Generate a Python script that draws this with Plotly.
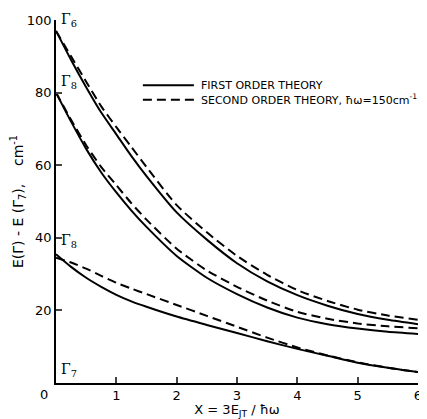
import plotly.graph_objects as go

x_vals = [0, 0.25, 0.5, 0.75, 1, 1.25, 1.5, 2, 2.5, 3, 3.5, 4, 4.5, 5, 5.5, 6]

g6_first = [97, 89, 81.5, 74.5, 68.5, 62.5, 57, 47, 39.5, 33, 28, 24.2, 21.3, 19, 17.4, 16.2]
g6_second = [97, 90, 83, 76.2, 70.5, 65, 59.5, 49, 41.5, 35, 29.8, 25.6, 22.6, 20.2, 18.6, 17.4]
g8_first = [80, 72, 64.5, 58, 52.5, 47.5, 43, 35, 29, 24.5, 20.8, 18, 16.2, 15, 14.1, 13.5]
g8_second = [80, 72.5, 65.5, 59.5, 54.5, 49.5, 45, 37, 31, 26.5, 22.7, 19.6, 17.7, 16.4, 15.6, 15.1]
g8b_first = [35.5, 32, 29, 26.5, 24.3, 22.5, 21, 18.3, 16, 13.8, 11.5, 9.4, 7.5, 5.6, 4.2, 3.0]
g8b_second = [34.5, 33.2, 31.5, 29.5, 27.6, 26, 24.5, 21.5, 18.5, 15.5, 12.5, 9.8, 7.6, 5.7, 4.2, 3.0]

x_ticks = [1, 2, 3, 4, 5, 6]
y_ticks = [20, 40, 60, 80, 100]

legend_first = "FIRST ORDER THEORY"
legend_second = "SECOND ORDER THEORY, ħω=150cm<sup>-1</sup>"

FONT = "DejaVu Sans"
dash = "9px,5px"

fig = go.Figure()
series = [
    (g6_first, "solid", legend_first),
    (g6_second, dash, legend_second),
    (g8_first, "solid", legend_first),
    (g8_second, dash, legend_second),
    (g8b_first, "solid", legend_first),
    (g8b_second, dash, legend_second),
]
for ys, d, name in series:
    fig.add_trace(go.Scatter(
        x=x_vals, y=ys, mode="lines", name=name, showlegend=False,
        line=dict(color="black", width=2, dash=d, shape="spline", smoothing=0.6),
    ))

# legend key (decoration in paper coordinates)
for yk, d, txt in [(0.82, "solid", legend_first), (0.78, dash, legend_second)]:
    fig.add_shape(type="line", xref="paper", yref="paper", x0=0.240, x1=0.381, y0=yk, y1=yk,
                  line=dict(color="black", width=2, dash=d))
    fig.add_annotation(xref="paper", yref="paper", x=0.395, y=yk, text=txt, showarrow=False,
                       xanchor="left", yanchor="middle",
                       font=dict(family=FONT, size=11, color="black"))

labels = [("Γ<sub>6</sub>", 97), ("Γ<sub>8</sub>", 80), ("Γ<sub>8</sub>", 36), ("Γ<sub>7</sub>", 0.5)]
for txt, yv in labels:
    fig.add_annotation(x=0, y=yv, text=txt, showarrow=False, xanchor="left", yanchor="bottom",
                       xshift=3, font=dict(family="DejaVu Serif", size=14, color="black"))

fig.add_annotation(xref="paper", yref="paper", x=0, y=0, text="0", showarrow=False,
                   xanchor="right", yanchor="top", xshift=-6, yshift=-2,
                   font=dict(family=FONT, size=13, color="black"))

# page body has an 8px margin, so the figure is sized/offset to compensate
fig.update_layout(
    width=419, height=411,
    margin=dict(l=47, r=5, t=9, b=36),
    paper_bgcolor="white", plot_bgcolor="white",
    font=dict(family=FONT, color="black"),
    showlegend=False,
    xaxis=dict(range=[0, 6], tickvals=x_ticks, ticks="inside", ticklen=6, tickwidth=1.5,
               showline=True, linecolor="black", linewidth=1.5, showgrid=False, zeroline=False,
               tickfont=dict(family=FONT, size=13), ticklabeloverflow="allow",
               title=dict(text="X = 3E<sub>JT</sub> / ħω", font=dict(family=FONT, size=13), standoff=2)),
    yaxis=dict(range=[0, 100], tickvals=y_ticks, ticks="inside", ticklen=6, tickwidth=1.5,
               showline=True, linecolor="black", linewidth=1.5, showgrid=False, zeroline=False,
               tickfont=dict(family=FONT, size=13),
               title=dict(text="E(Γ) - E (Γ<sub>7</sub>),    cm<sup>-1</sup>",
                          font=dict(family=FONT, size=14), standoff=4)),
)

fig.write_html("out.html")
